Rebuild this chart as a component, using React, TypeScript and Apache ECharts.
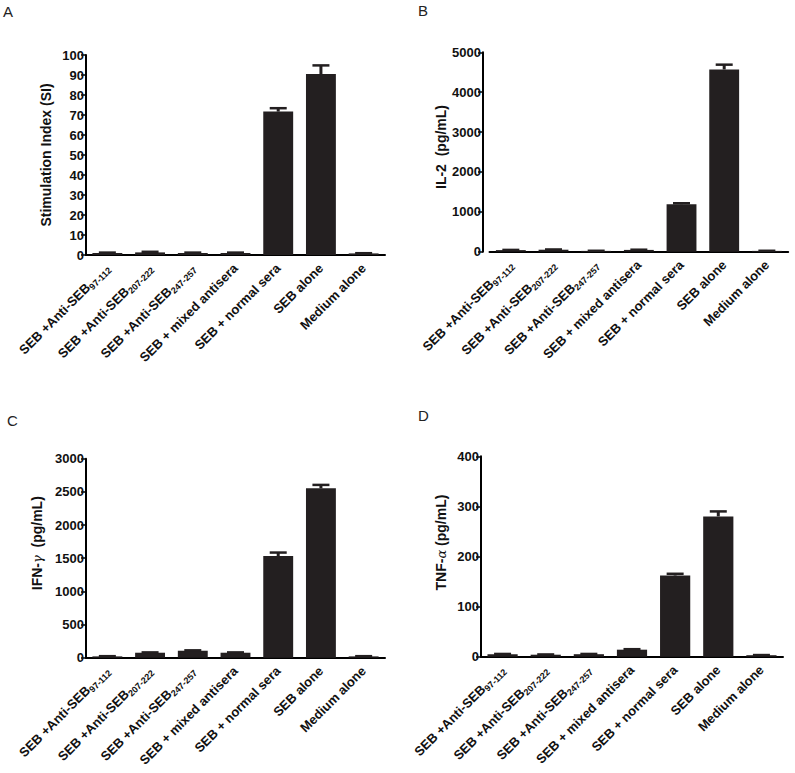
import React, { useEffect, useRef } from "react";
import * as echarts from "echarts";

// ---- data ----
const catMain = [
  "SEB +Anti-SEB",
  "SEB +Anti-SEB",
  "SEB +Anti-SEB",
  "SEB + mixed antisera",
  "SEB + normal sera",
  "SEB alone",
  "Medium alone",
];
const catSub = ["97-112", "207-222", "247-257", "", "", "", ""];
const categories = catMain.map((m, i) => m + catSub[i]);

const siMean = [1.0, 1.3, 1.0, 1.0, 71.7, 90.5, 0.8];
const siErr = [0.2, 0.3, 0.2, 0.2, 1.7, 4.3, 0.1];

const il2Mean = [40, 50, 20, 45, 1190, 4570, 20];
const il2Err = [5, 6, 3, 5, 25, 120, 3];

const ifnMean = [20, 75, 105, 75, 1533, 2553, 20];
const ifnErr = [3, 5, 6, 5, 52, 52, 3];

const tnfMean = [5, 4, 5, 14, 162, 280, 3];
const tnfErr = [0.5, 0.5, 0.5, 1, 3.5, 10, 0.3];

const siTicks = { min: 0, max: 100, interval: 10 };
const il2Ticks = { min: 0, max: 5000, interval: 1000 };
const ifnTicks = { min: 0, max: 3000, interval: 500 };
const tnfTicks = { min: 0, max: 400, interval: 100 };

const FONT = "'Liberation Sans', Arial, Helvetica, sans-serif";
const INK = "#231f20";

function App() {
  const ref = useRef<HTMLDivElement>(null);
  useEffect(() => {
    if (!ref.current) return;
    const chart = echarts.init(ref.current, undefined, { renderer: "svg" });

    const panels = [
      { mean: siMean, err: siErr, ticks: siTicks, grid: { left: 86, top: 55, width: 299, height: 200 }, offset: 0,
        name: "Stimulation Index (SI)", gap: 33, pad: 0 },
      { mean: il2Mean, err: il2Err, ticks: il2Ticks, grid: { left: 489.5, top: 52.3, width: 298.7, height: 199.4 }, offset: 6.5,
        name: "IL-2  (pg/mL)", gap: 34, pad: 10 },
      { mean: ifnMean, err: ifnErr, ticks: ifnTicks, grid: { left: 86, top: 458.7, width: 299, height: 199 }, offset: 0,
        name: "IFN-{g|γ}  (pg/mL)", gap: 42, pad: 30 },
      { mean: tnfMean, err: tnfErr, ticks: tnfTicks, grid: { left: 481, top: 456.3, width: 302, height: 200.4 }, offset: 0,
        name: "TNF-{g|α} (pg/mL)", gap: 33, pad: 28 },
    ];

    const grid: any[] = [];
    const xAxis: any[] = [];
    const yAxis: any[] = [];
    const series: any[] = [];

    panels.forEach((p, i) => {
      grid.push({ ...p.grid, containLabel: false });
      xAxis.push({
        type: "category",
        gridIndex: i,
        data: categories,
        boundaryGap: true,
        axisLine: { lineStyle: { color: "#000", width: 2 } },
        axisTick: { alignWithLabel: true, length: 6, lineStyle: { color: "#000", width: 1.5 } },
        axisLabel: {
          interval: 0,
          rotate: 45,
          margin: 11,
          formatter: (_v: string, idx: number) =>
            catSub[idx] ? `{n|${catMain[idx]}}{s|${catSub[idx]}}` : `{n|${catMain[idx]}}`,
          rich: {
            n: { fontFamily: FONT, fontWeight: "bold", fontSize: 13, color: "#111", lineHeight: 17 },
            s: { fontFamily: FONT, fontWeight: "bold", fontSize: 9, color: "#111", verticalAlign: "bottom" },
          },
        },
        splitLine: { show: false },
      });
      yAxis.push({
        type: "value",
        gridIndex: i,
        min: p.ticks.min,
        max: p.ticks.max,
        interval: p.ticks.interval,
        offset: p.offset,
        name: p.name,
        nameLocation: "middle",
        nameGap: p.gap,
        nameTextStyle: {
          fontFamily: FONT,
          fontWeight: "bold",
          fontSize: 14,
          color: "#111",
          padding: [0, 0, 0, p.pad],
          rich: {
            g: { fontFamily: "'DejaVu Serif', serif", fontStyle: "italic", fontWeight: "normal", fontSize: 13, color: "#111" },
          },
        },
        axisLine: { show: true, lineStyle: { color: "#000", width: 2 } },
        axisTick: { show: true, length: 5, lineStyle: { color: "#000", width: 1.5 } },
        axisLabel: {
          fontFamily: FONT,
          fontWeight: "bold",
          fontSize: 13,
          color: "#111",
          margin: 2,
          formatter: (v: number) => String(v),
        },
        splitLine: { show: false },
      });
      series.push({
        type: "bar",
        xAxisIndex: i,
        yAxisIndex: i,
        data: p.mean,
        barWidth: "70%",
        itemStyle: { color: INK },
        z: 2,
      });
      series.push({
        type: "custom",
        xAxisIndex: i,
        yAxisIndex: i,
        z: 3,
        data: p.mean.map((m, k) => [k, m, p.err[k]]),
        encode: { x: 0, y: 1 },
        renderItem: (_params: any, api: any) => {
          const x = api.value(0);
          const m = api.value(1);
          const e = api.value(2);
          const p0 = api.coord([x, m]);
          const p1 = api.coord([x, m + e]);
          return {
            type: "group",
            children: [
              { type: "line", shape: { x1: p0[0], y1: p0[1], x2: p1[0], y2: p1[1] }, style: { stroke: INK, lineWidth: 3 } },
              { type: "line", shape: { x1: p1[0] - 8.5, y1: p1[1], x2: p1[0] + 8.5, y2: p1[1] }, style: { stroke: INK, lineWidth: 2.5 } },
            ],
          };
        },
      });
    });

    const letter = (t: string, x: number, y: number) => ({
      type: "text",
      left: x,
      top: y,
      style: { text: t, fontFamily: FONT, fontSize: 15, fill: "#222" },
    });

    chart.setOption({
      animation: false,
      backgroundColor: "#fff",
      grid,
      xAxis,
      yAxis,
      series,
      graphic: [letter("A", 3, 4), letter("B", 418, 3), letter("C", 7, 413), letter("D", 418, 408)],
    });
    return () => chart.dispose();
  }, []);
  return (
    <div
      ref={ref}
      style={{ position: "fixed", left: 0, top: 0, width: 795, height: 773, background: "#fff" }}
    />
  );
}

export default App;
